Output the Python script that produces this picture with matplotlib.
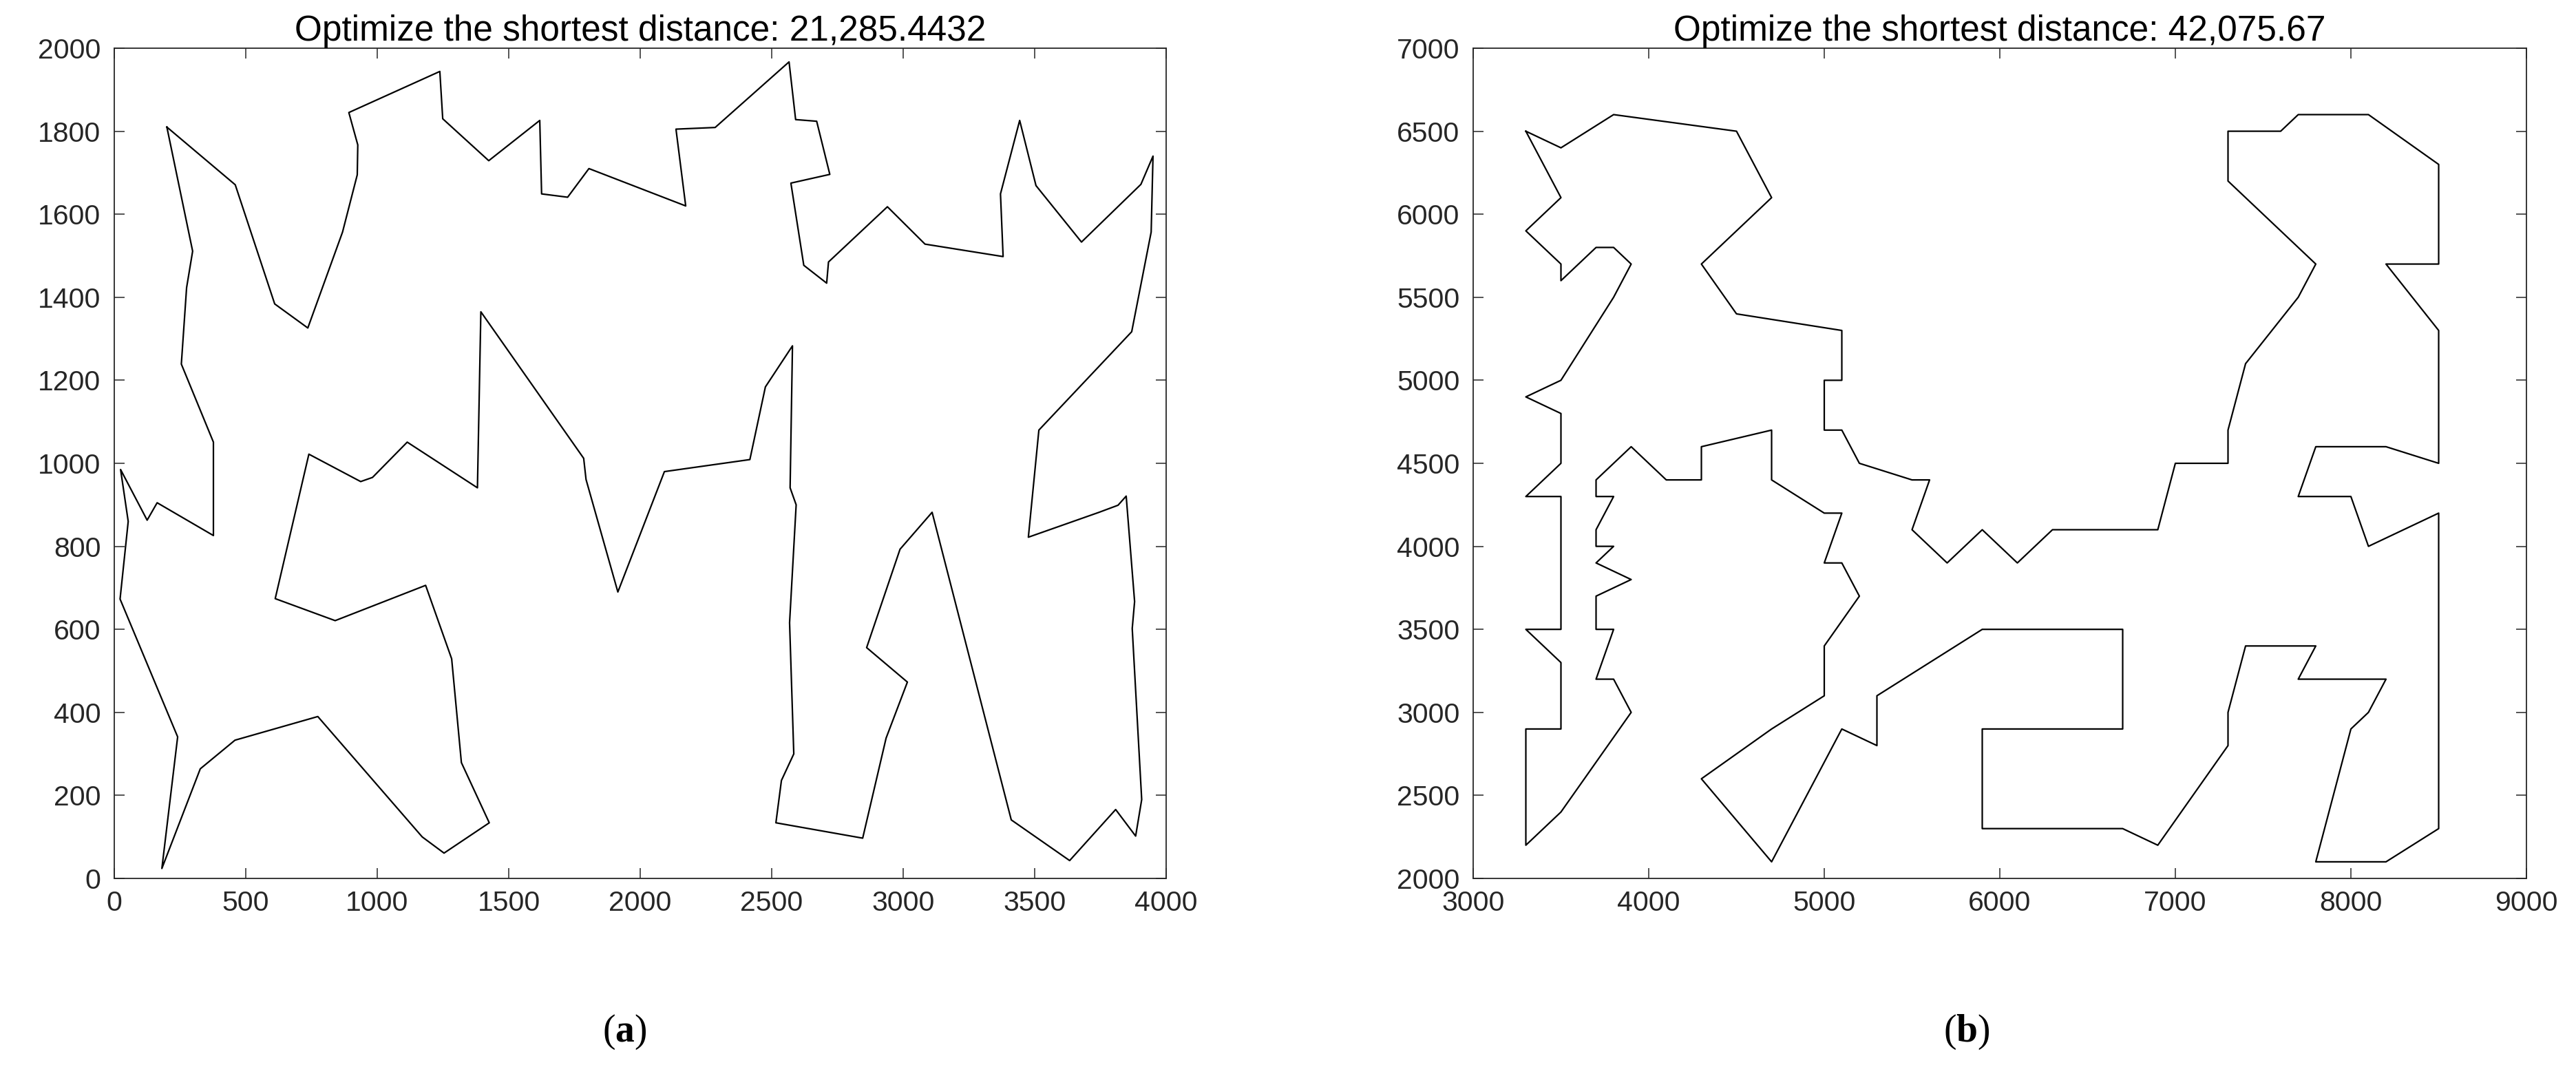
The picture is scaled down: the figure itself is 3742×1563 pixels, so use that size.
import matplotlib
matplotlib.use("Agg")
import matplotlib.pyplot as plt

plt.rcParams['font.family'] = ['Liberation Sans', 'DejaVu Sans']
plt.rcParams['mathtext.fontset'] = 'custom'
plt.rcParams['mathtext.bf'] = 'Liberation Serif:bold'
plt.rcParams['mathtext.rm'] = 'Liberation Serif'

# ---------------- data: panel (a) tour ----------------
a_x = [200, 460, 610, 736, 868, 924, 926, 892, 1238, 1249, 1424, 1618, 1625, 1724, 1805,
       2173, 2136, 2285, 2566, 2591, 2671, 2721, 2573, 2622, 2709, 2716, 2940, 3083, 3380,
       3370, 3443, 3505, 3678, 3904, 3950, 3943, 3869, 3516, 3476, 3745, 3817, 3848, 3880,
       3871, 3907, 3884, 3808, 3633, 3411, 3110, 2988, 2861, 3016, 2935, 2846, 2516, 2537,
       2584, 2568, 2593, 2570, 2579, 2476, 2417, 2092, 1915, 1794, 1785, 1394, 1381, 1114,
       982, 937, 740, 612, 840, 1184, 1283, 1320, 1426, 1254, 1171, 774, 459, 327, 181, 241,
       22, 53, 24, 125, 163, 377, 377, 255, 275, 298, 200]
a_y = [1810, 1671, 1384, 1326, 1557, 1695, 1767, 1845, 1944, 1830, 1729, 1826, 1649, 1641, 1710,
       1620, 1805, 1809, 1967, 1828, 1824, 1696, 1675, 1477, 1434, 1485, 1618, 1528, 1498,
       1649, 1826, 1669, 1533, 1672, 1740, 1557, 1317, 1080, 822, 882, 899, 921, 667,
       602, 190, 102, 166, 43, 141, 882, 793, 556, 473, 338, 97, 134, 236,
       300, 616, 900, 941, 1283, 1184, 1009, 980, 690, 961, 1012, 1365, 941, 1051,
       966, 956, 1022, 674, 621, 706, 529, 279, 134, 61, 100, 390, 333, 264, 24, 341,
       673, 860, 985, 863, 905, 826, 1051, 1239, 1423, 1511, 1810]

# ---------------- data: panel (b) tour ----------------
b_x = [3300, 3500, 3800, 4500, 4700, 4300, 4500, 5100, 5100, 5000, 5000, 5100, 5200, 5500,
       5600, 5500, 5700, 5900, 6100, 6300, 6900, 7000, 7300, 7300, 7400, 7700, 7800, 7300,
       7300, 7600, 7700, 8100, 8500, 8500, 8200, 8500, 8500, 8200, 7800, 7700, 8000, 8100,
       8500, 8500, 8200, 7800, 8000, 8100, 8200, 7700, 7800, 7400, 7300, 7300, 6900, 6700,
       5900, 5900, 6700, 6700, 5900, 5300, 5300, 5100, 4700, 4300, 4700, 5000, 5000, 5200,
       5100, 5000, 5100, 5000, 4700, 4700, 4300, 4300, 4100, 3900, 3700, 3700, 3800, 3700,
       3700, 3800, 3700, 3900, 3700, 3700, 3800, 3700, 3800, 3900, 3500, 3300, 3300, 3500,
       3500, 3300, 3500, 3500, 3300, 3500, 3500, 3300, 3500, 3800, 3900, 3800, 3700, 3500,
       3500, 3300, 3500, 3300]
b_y = [6500, 6400, 6600, 6500, 6100, 5700, 5400, 5300, 5000, 5000, 4700, 4700, 4500, 4400,
       4400, 4100, 3900, 4100, 3900, 4100, 4100, 4500, 4500, 4700, 5100, 5500, 5700, 6200,
       6500, 6500, 6600, 6600, 6300, 5700, 5700, 5300, 4500, 4600, 4600, 4300, 4300, 4000,
       4200, 2300, 2100, 2100, 2900, 3000, 3200, 3200, 3400, 3400, 3000, 2800, 2200, 2300,
       2300, 2900, 2900, 3500, 3500, 3100, 2800, 2900, 2100, 2600, 2900, 3100, 3400, 3700,
       3900, 3900, 4200, 4200, 4400, 4700, 4600, 4400, 4400, 4600, 4400, 4300, 4300, 4100,
       4000, 4000, 3900, 3800, 3700, 3500, 3500, 3200, 3200, 3000, 2400, 2200, 2900, 2900,
       3300, 3500, 3500, 4300, 4300, 4500, 4800, 4900, 5000, 5500, 5700, 5800, 5800, 5600,
       5700, 5900, 6100, 6500]

titles = ["Optimize the shortest distance: 21,285.4432",
          "Optimize the shortest distance: 42,075.67"]
panel_labels = ["a", "b"]
a_xticks = list(range(0, 4001, 500))
a_yticks = list(range(0, 2001, 200))
b_xticks = list(range(3000, 9001, 1000))
b_yticks = list(range(2000, 7001, 500))

W, H = 3742, 1563
fig = plt.figure(figsize=(W / 100, H / 100), dpi=100)
fig.patch.set_facecolor('white')

def px_axes(left, right, top, bottom):
    return fig.add_axes([left / W, 1 - bottom / H, (right - left) / W, (bottom - top) / H])

frame_col = '#262626'

def style(ax, xt, yt, xlim, ylim, title):
    ax.set_xlim(*xlim)
    ax.set_ylim(*ylim)
    ax.set_xticks(xt)
    ax.set_yticks(yt)
    ax.tick_params(direction='in', length=11, width=1.1, top=True, right=True,
                   labelsize=29.5, colors=frame_col, labelcolor=frame_col)
    ax.tick_params(axis='x', pad=12)
    ax.tick_params(axis='y', pad=14)
    for s in ax.spines.values():
        s.set_color(frame_col)
        s.set_linewidth(1.3)
    ax.set_title(title, fontsize=37, color='black', pad=8)

ax1 = px_axes(166, 1694, 70, 1276)
ax1.plot(a_x, a_y, color='black', linewidth=1.6)
style(ax1, a_xticks, a_yticks, (0, 4000), (0, 2000), titles[0])

ax2 = px_axes(2140, 3670, 70, 1276)
ax2.plot(b_x, b_y, color='black', linewidth=1.6)
style(ax2, b_xticks, b_yticks, (3000, 9000), (2000, 7000), titles[1])

for xpix, lab in zip([907, 2857], panel_labels):
    fig.text(xpix / W, 1 - 1499 / H, r"($\mathbf{%s}$)" % lab,
             ha='center', va='center', fontsize=40, family='Liberation Serif')

fig.savefig("out.png", dpi=100, facecolor='white')
